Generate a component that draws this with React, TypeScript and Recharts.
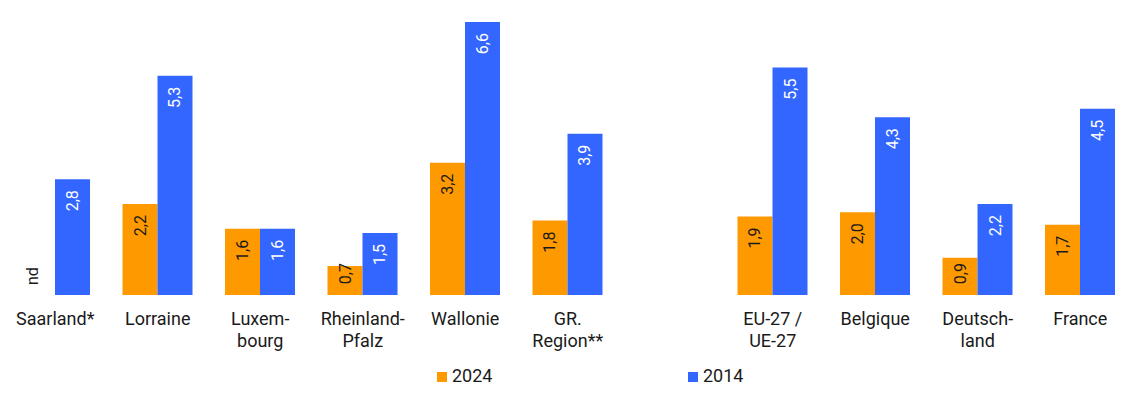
import React from "react";
import { BarChart, Bar, XAxis, YAxis, LabelList, Legend, Rectangle } from "recharts";

const categories = [
  "Saarland*",
  "Lorraine",
  "Luxem-\nbourg",
  "Rheinland-\nPfalz",
  "Wallonie",
  "GR.\nRegion**",
  "",
  "EU-27 /\nUE-27",
  "Belgique",
  "Deutsch-\nland",
  "France",
];
const values2024: (number | null)[] = [null, 2.2, 1.6, 0.7, 3.2, 1.8, null, 1.9, 2.0, 0.9, 1.7];
const values2014: (number | null)[] = [2.8, 5.3, 1.6, 1.5, 6.6, 3.9, null, 5.5, 4.3, 2.2, 4.5];
// "nd" = no data available for 2024
const notAvailable2024 = [true, false, false, false, false, false, false, false, false, false, false];

const data = categories.map((name, i) => ({
  name,
  y2024: values2024[i],
  y2014: values2014[i],
  nd2024: notAvailable2024[i],
}));

const ORANGE = "#FF9900";
const BLUE = "#3366FF";
const FONT = "Roboto, 'Noto Sans', sans-serif";
const LABEL_LEN = 21; // approx. rendered length of "x,x" at 16px

const fmt = (v: number) => v.toFixed(1).replace(".", ",");

const CategoryTick = (props: any) => {
  const { x, y, payload } = props;
  const lines = String(payload.value).split("\n");
  return (
    <text x={x} y={y + 22} textAnchor="middle" fontFamily={FONT} fontSize={18} fill="#1a1a1a">
      {lines.map((l, i) => (
        <tspan key={i} x={x} dy={i === 0 ? 0 : 21.6}>
          {l}
        </tspan>
      ))}
    </text>
  );
};

const makeLabel = (color: string) => (props: any) => {
  const { x, y, width, height, value } = props;
  if (value == null || value === "") return null;
  const cx = Number(x) + Number(width) / 2;
  const top = Number(y);
  const bottom = top + Number(height);
  const ty = Math.min(top + 11, bottom - 11 - LABEL_LEN);
  return (
    <text
      x={cx}
      y={ty}
      transform={`rotate(-90 ${cx} ${ty})`}
      textAnchor="end"
      dominantBaseline="central"
      fontFamily={FONT}
      fontSize={16}
      fill={color}
    >
      {fmt(Number(value))}
    </text>
  );
};

// 2014 bar shape; also writes "nd" in the empty 2024 slot next to it
const BlueShape = (props: any) => {
  const { x, y, width, height, payload } = props;
  const showNd = payload && payload.nd2024;
  const cx = Number(x) - Number(width) / 2;
  const by = Number(y) + Number(height) - 10;
  return (
    <g>
      <Rectangle {...props} />
      {showNd && (
        <text
          x={cx}
          y={by}
          transform={`rotate(-90 ${cx} ${by})`}
          textAnchor="start"
          fontFamily={FONT}
          fontSize={16}
          fill="#1a1a1a"
        >
          nd
        </text>
      )}
    </g>
  );
};

const LegendContent = () => (
  <svg width={1140} height={42} style={{ display: "block" }}>
    <rect x={437} y={17} width={10} height={10} fill={ORANGE} />
    <text x={452} y={27.3} fontFamily={FONT} fontSize={18} fill="#1a1a1a">
      2024
    </text>
    <rect x={688} y={17} width={10} height={10} fill={BLUE} />
    <text x={703} y={27.3} fontFamily={FONT} fontSize={18} fill="#1a1a1a">
      2014
    </text>
  </svg>
);

export default function App() {
  return (
    <div style={{ position: "absolute", left: 0, top: 0, width: 1140, height: 397, background: "#fff" }}>
      <BarChart
        width={1140}
        height={397}
        data={data}
        margin={{ top: 22, right: 8.5, left: 4, bottom: 0 }}
        barCategoryGap={16}
        barGap={0}
      >
        <XAxis
          dataKey="name"
          axisLine={false}
          tickLine={false}
          interval={0}
          height={60}
          tick={<CategoryTick />}
        />
        <YAxis hide domain={[0, 6.6]} />
        <Legend
          verticalAlign="bottom"
          height={42}
          wrapperStyle={{ left: 0, bottom: 0, width: 1140, height: 42 }}
          content={<LegendContent />}
        />
        <Bar dataKey="y2024" fill={ORANGE} isAnimationActive={false}>
          <LabelList dataKey="y2024" content={makeLabel("#1a1a1a")} />
        </Bar>
        <Bar dataKey="y2014" fill={BLUE} isAnimationActive={false} shape={<BlueShape />}>
          <LabelList dataKey="y2014" content={makeLabel("#ffffff")} />
        </Bar>
      </BarChart>
    </div>
  );
}
